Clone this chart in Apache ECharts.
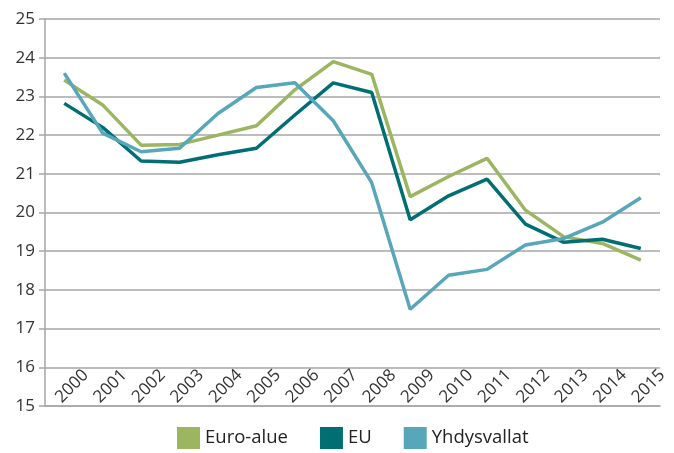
<!DOCTYPE html>
<html>
<head>
<meta charset="utf-8">
<script src="https://cdn.jsdelivr.net/npm/echarts@6/dist/echarts.min.js"></script>
<style>
  html, body { margin: 0; padding: 0; background: #fff; }
  #chart { width: 674px; height: 453px; }
</style>
</head>
<body>
<div id="chart"></div>
<script>
// vuodet
var years = ['2000','2001','2002','2003','2004','2005','2006','2007','2008','2009','2010','2011','2012','2013','2014','2015'];
var euroAlue = [23.42,22.78,21.74,21.76,22.0,22.24,23.17,23.90,23.57,20.41,20.93,21.40,20.06,19.37,19.20,18.77];
var eu = [22.82,22.20,21.33,21.30,21.49,21.66,22.52,23.35,23.10,19.81,20.43,20.86,19.70,19.23,19.31,19.07];
var yhdysvallat = [23.60,22.05,21.57,21.66,22.56,23.23,23.35,22.37,20.77,17.50,18.38,18.53,19.16,19.33,19.75,20.38];

var colors = ['#9bb561', '#006e72', '#57a6b9'];
var font = 'Open Sans';

var chart = echarts.init(document.getElementById('chart'));

function line(name, data, c) {
  return {
    name: name,
    type: 'line',
    data: data,
    symbol: 'none',
    lineStyle: { width: 3.5, color: c },
    itemStyle: { color: c }
  };
}

chart.setOption({
  animation: false,
  color: colors,
  grid: { left: 45, right: 14, top: 19, bottom: 47 },
  legend: {
    bottom: 4,
    left: 177,
    padding: 0,
    icon: 'rect',
    itemWidth: 23,
    itemHeight: 22,
    itemGap: 32,
    textStyle: { fontFamily: font, fontSize: 18.5, color: '#222' },
    data: ['Euro-alue', 'EU', 'Yhdysvallat']
  },
  xAxis: {
    type: 'category',
    boundaryGap: true,
    data: years,
    axisLine: { lineStyle: { color: '#a6a6a6', width: 1.5 } },
    axisTick: { inside: true, length: 7, lineStyle: { color: '#a6a6a6', width: 1.5 } },
    axisLabel: {
      inside: true,
      rotate: 45,
      interval: 0,
      margin: 0,
      align: 'left',
      verticalAlign: 'bottom',
      fontFamily: font,
      fontSize: 17,
      color: '#333'
    }
  },
  yAxis: {
    type: 'value',
    min: 15,
    max: 25,
    interval: 1,
    axisLine: { show: true, lineStyle: { color: '#a6a6a6', width: 1.5 } },
    axisTick: { show: true, length: 6, lineStyle: { color: '#a6a6a6', width: 1.5 } },
    splitLine: { lineStyle: { color: '#a6a6a6', width: 1.5 } },
    axisLabel: { margin: 10, fontFamily: font, fontSize: 17, color: '#333' }
  },
  series: [
    line('Euro-alue', euroAlue, colors[0]),
    line('EU', eu, colors[1]),
    line('Yhdysvallat', yhdysvallat, colors[2])
  ]
});
</script>
</body>
</html>
